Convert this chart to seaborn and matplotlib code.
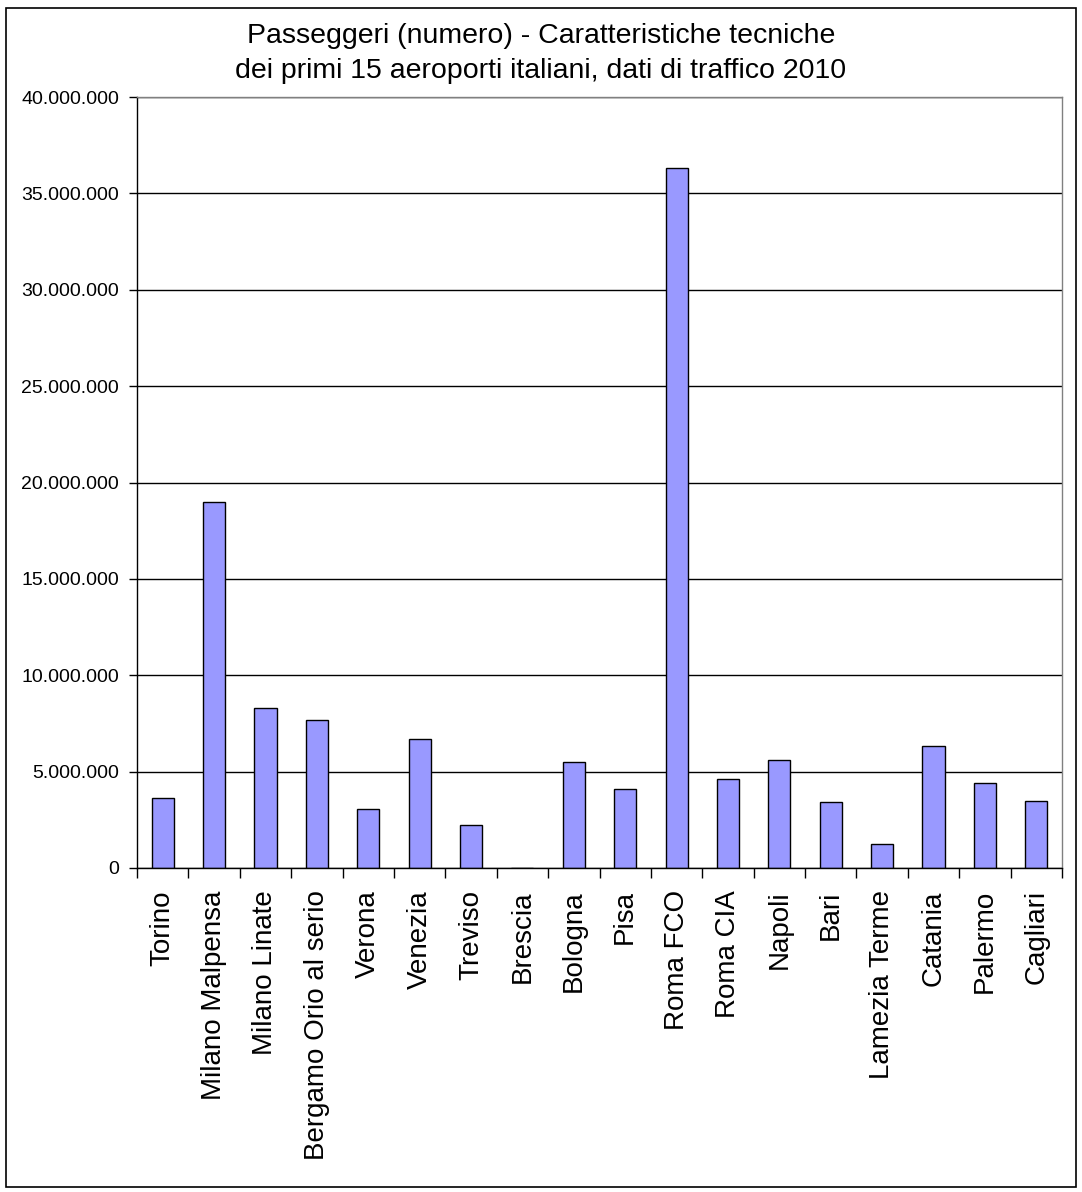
import matplotlib
matplotlib.use("Agg")
import matplotlib.pyplot as plt
import seaborn as sns
import pandas as pd
import numpy as np
from matplotlib.ticker import FuncFormatter, FixedLocator

airports = ["Torino", "Milano Malpensa", "Milano Linate", "Bergamo Orio al serio",
            "Verona", "Venezia", "Treviso", "Brescia", "Bologna", "Pisa",
            "Roma FCO", "Roma CIA", "Napoli", "Bari", "Lamezia Terme",
            "Catania", "Palermo", "Cagliari"]
passengers = [3630000, 18990000, 8300000, 7680000, 3060000, 6690000, 2230000, 0,
              5500000, 4100000, 36320000, 4620000, 5600000, 3420000, 1250000,
              6330000, 4410000, 3480000]
title = "Passeggeri (numero) - Caratteristiche tecniche\ndei primi 15 aeroporti italiani, dati di traffico 2010"

sns.set_theme(style="white")
plt.rcParams['font.family'] = ['Liberation Sans', 'DejaVu Sans']
plt.rcParams['text.color'] = 'black'
plt.rcParams['xtick.color'] = 'black'
plt.rcParams['ytick.color'] = 'black'
plt.rcParams['axes.labelcolor'] = 'black'

df = pd.DataFrame({"aeroporto": airports, "passeggeri": passengers})

fig = plt.figure(figsize=(10.82, 11.92), dpi=100)
ax = fig.add_axes([137/1082, 1 - 868/1192, (1062-137)/1082, (868-97)/1192])

sns.barplot(data=df, x="aeroporto", y="passeggeri", color="#9999FF",
            edgecolor="black", linewidth=1, width=0.43, saturation=1, ax=ax)

ax.set_ylim(0, 40000000)
ax.set_xlim(-0.5, len(airports) - 0.5)
ax.set_yticks(np.arange(0, 40000001, 5000000))
ax.yaxis.set_major_formatter(FuncFormatter(lambda v, p: f"{int(v):,}".replace(",", ".")))
ax.grid(axis="y", color="black", linewidth=1)
ax.set_axisbelow(True)
ax.set_xlabel("")
ax.set_ylabel("")

for side in ["top", "right"]:
    ax.spines[side].set_color("#808080")
    ax.spines[side].set_linewidth(1)
for side in ["left", "bottom"]:
    ax.spines[side].set_color("black")
    ax.spines[side].set_linewidth(1)

ax.tick_params(axis="y", which="major", direction="out", length=6, width=1,
               color="black", labelsize=14, pad=7, left=True, labelcolor="black")
ax.set_xticks(range(len(airports)))
ax.set_xticklabels(airports, rotation=90, fontsize=20)
ax.tick_params(axis="x", which="major", length=0, pad=16, bottom=True, labelcolor="black")
ax.xaxis.set_minor_locator(FixedLocator(np.arange(-0.5, len(airports), 1.0)))
ax.tick_params(axis="x", which="minor", direction="out", length=7, width=1,
               color="black", bottom=True)

fig.suptitle(title, fontsize=20.5, y=1 - 23/1192, va="top", linespacing=1.45,
             color="black")

border = plt.Rectangle((0.006, 0.004), 0.988, 0.989, transform=fig.transFigure,
                       fill=False, edgecolor="black", linewidth=1.2)
fig.patches.append(border)

fig.savefig("out.png", dpi=100)
